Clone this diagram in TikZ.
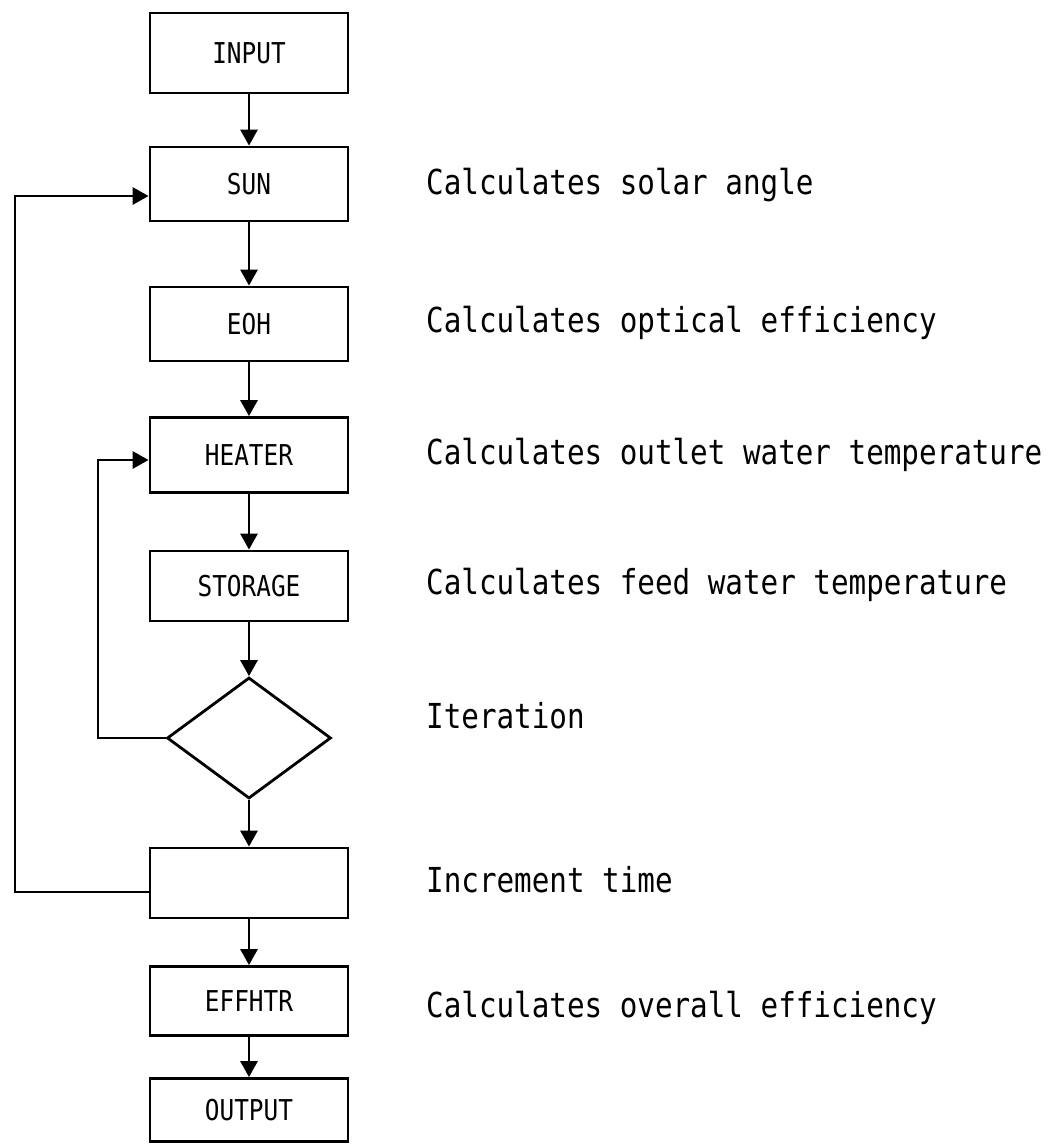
\documentclass[tikz,border=0pt]{standalone}
\usepackage{fontspec}
\usepackage{tikz}
\usetikzlibrary{arrows.meta,shapes.geometric}
\newfontfamily\notefont[FakeStretch=0.85]{DejaVu Sans Mono}
\tikzset{
  flowbox/.style={draw,line width=2.8pt,minimum width=198pt,inner sep=0pt,
    font=\notefont\fontsize{28.7}{34}\selectfont},
  decision/.style={draw,diamond,line width=2.8pt,minimum width=164pt,
    minimum height=121pt,inner sep=0pt},
  note/.style={anchor=base west,inner sep=0pt,
    font=\notefont\fontsize{34.4}{40}\selectfont},
  flowarrow/.style={line width=2.8pt,-{Triangle[length=16pt,width=17pt]}},
}
\newcommand{\flowblock}[4]{%
  \node[flowbox,minimum height=#3] (#1) at (249,#2) {#4};
}
\newcommand{\flownote}[3]{%
  \node[note] (#1) at (426,#2) {#3};
}

\begin{document}
\begin{tikzpicture}[x=1pt,y=-1pt]
    \useasboundingbox (0,0) rectangle (1056,1144);
    \flowblock{input}{53}{80}{INPUT}
    \flowblock{sun}{184}{74}{SUN}
    \flowblock{eoh}{324}{74}{EOH}
    \flowblock{heater}{455}{75}{HEATER}
    \flowblock{storage}{586}{70}{STORAGE}
    \node[decision] (iter) at (249,738) {};
    \flowblock{incr}{883}{70}{}
    \flowblock{effhtr}{1001}{69}{EFFHTR}
    \flowblock{output}{1110}{63}{OUTPUT}
    \flownote{sunnote}{194}{Calculates solar angle}
    \flownote{eohnote}{332}{Calculates optical efficiency}
    \flownote{heaternote}{464}{Calculates outlet water temperature}
    \flownote{storagenote}{594}{Calculates feed water temperature}
    \flownote{iternote}{728}{Iteration}
    \flownote{incrnote}{892}{Increment time}
    \flownote{effhtrnote}{1017}{Calculates overall efficiency}
    \foreach \from/\to in {input/sun,sun/eoh,eoh/heater,heater/storage,
        storage/iter,iter/incr,incr/effhtr,effhtr/output}
      \draw[flowarrow] (\from.south) -- (\to.north);
    % loops back
    \coordinate (outerloop) at (15,0);
    \coordinate (innerloop) at (98,0);
    \coordinate (incrout) at ([yshift=-9pt]incr.west);
    \coordinate (sunin) at ([yshift=-12pt]sun.west);
    \coordinate (heaterin) at ([yshift=-5pt]heater.west);
    \draw[flowarrow] (incrout) -- (incrout -| outerloop) |- (sunin);
    \draw[flowarrow] (iter.west) -- (iter.west -| innerloop) |- (heaterin);
\end{tikzpicture}
\end{document}
